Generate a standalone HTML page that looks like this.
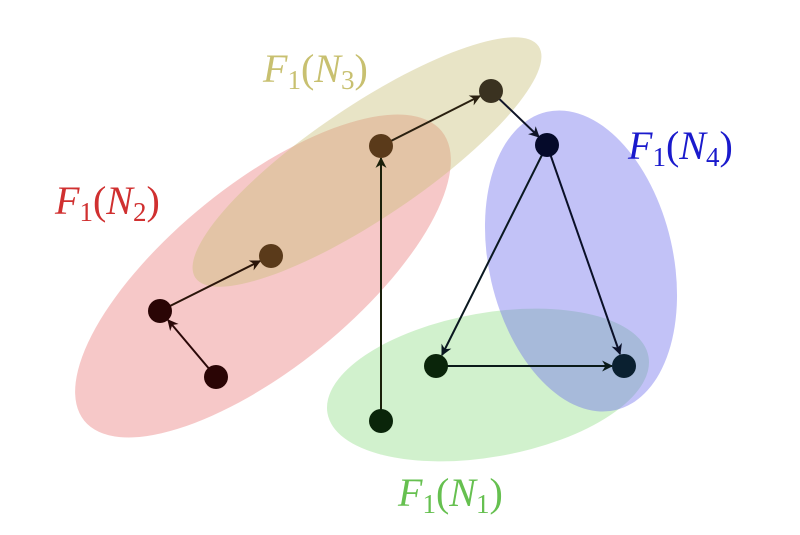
<!DOCTYPE html>
<html><head><style>
html,body{margin:0;padding:0;background:#fff;}
svg text{font-family:"Liberation Serif",serif;}
</style></head><body>
<svg width="800" height="530" viewBox="0 0 800 530" xmlns="http://www.w3.org/2000/svg">
<defs>
<marker id="ar" viewBox="0 0 10 10" refX="9" refY="5" markerWidth="12" markerHeight="11" orient="auto" markerUnits="userSpaceOnUse">
<path d="M0,0 L10,5 L0,10 L3,5 z" fill="context-stroke"/>
</marker>
</defs>
<ellipse cx="263" cy="276" rx="230" ry="92" transform="rotate(-39 263 276)" fill="rgb(232,110,110)" fill-opacity="0.38"/>
<ellipse cx="367" cy="162" rx="207" ry="56" transform="rotate(-34 367 162)" fill="rgb(200,190,120)" fill-opacity="0.42"/>
<ellipse cx="488" cy="385" rx="163" ry="72" transform="rotate(-10 488 385)" fill="rgb(140,220,130)" fill-opacity="0.4"/>
<ellipse cx="581" cy="261" rx="92" ry="153" transform="rotate(-13 581 261)" fill="rgb(110,110,235)" fill-opacity="0.42"/>
<g stroke-width="2" fill="none">
<line x1="216" y1="377" x2="168" y2="320" stroke="#2a0808" marker-end="url(#ar)"/>
<line x1="160" y1="311" x2="260" y2="261" stroke="#2a150a" marker-end="url(#ar)"/>
<line x1="381" y1="421" x2="381" y2="158" stroke="#1a200a" marker-end="url(#ar)"/>
<line x1="381" y1="146" x2="480" y2="96" stroke="#2a2010" marker-end="url(#ar)"/>
<line x1="491" y1="91" x2="539" y2="137" stroke="#101528" marker-end="url(#ar)"/>
<line x1="547" y1="145" x2="442" y2="355" stroke="#0a1820" marker-end="url(#ar)"/>
<line x1="547" y1="145" x2="620" y2="354" stroke="#0a1028" marker-end="url(#ar)"/>
<line x1="436" y1="366" x2="612" y2="366" stroke="#0a1a18" marker-end="url(#ar)"/>
</g>
<circle cx="216" cy="377" r="12" fill="#2a0505"/>
<circle cx="160" cy="311" r="12" fill="#2a0505"/>
<circle cx="271" cy="256" r="12" fill="#5a3a1a"/>
<circle cx="381" cy="146" r="12" fill="#5a3a1a"/>
<circle cx="491" cy="91" r="12" fill="#3a3220"/>
<circle cx="547" cy="145" r="12" fill="#050a2a"/>
<circle cx="436" cy="366" r="12" fill="#0a250a"/>
<circle cx="624" cy="366" r="12" fill="#0a2030"/>
<circle cx="381" cy="421" r="12" fill="#0a250a"/>
<g font-size="40" font-style="italic">
<text x="263" y="82" fill="#c8c070">F<tspan font-style="normal" font-size="27" dy="7">1</tspan><tspan font-style="normal" dy="-7">(</tspan>N<tspan font-style="normal" font-size="27" dy="7">3</tspan><tspan font-style="normal" dy="-7">)</tspan></text>
<text x="55" y="214" fill="#d03030">F<tspan font-style="normal" font-size="27" dy="7">1</tspan><tspan font-style="normal" dy="-7">(</tspan>N<tspan font-style="normal" font-size="27" dy="7">2</tspan><tspan font-style="normal" dy="-7">)</tspan></text>
<text x="628" y="159" fill="#1a1acc">F<tspan font-style="normal" font-size="27" dy="7">1</tspan><tspan font-style="normal" dy="-7">(</tspan>N<tspan font-style="normal" font-size="27" dy="7">4</tspan><tspan font-style="normal" dy="-7">)</tspan></text>
<text x="398" y="506" fill="#66c050">F<tspan font-style="normal" font-size="27" dy="7">1</tspan><tspan font-style="normal" dy="-7">(</tspan>N<tspan font-style="normal" font-size="27" dy="7">1</tspan><tspan font-style="normal" dy="-7">)</tspan></text>
</g>
</svg>
</body></html>
